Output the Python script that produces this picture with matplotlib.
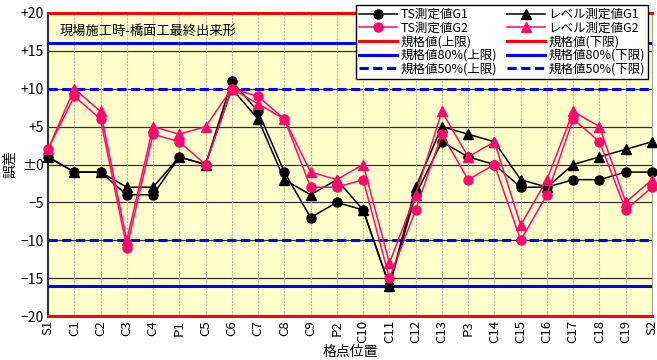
import matplotlib.pyplot as plt
from matplotlib.lines import Line2D

plt.rcParams['font.family'] = ['Noto Sans CJK JP', 'DejaVu Sans']

# 格点 and measured deviations (mm)
points = ['S1', 'C1', 'C2', 'C3', 'C4', 'P1', 'C5', 'C6', 'C7', 'C8', 'C9', 'P2',
          'C10', 'C11', 'C12', 'C13', 'P3', 'C14', 'C15', 'C16', 'C17', 'C18', 'C19', 'S2']
ts_g1 = [1, -1, -1, -4, -4, 1, 0, 11, 7, -1, -7, -5, -6, -16, -4, 3, 1, 0, -3, -3, -2, -2, -1, -1]
ts_g2 = [2, 9, 6, -11, 4, 3, 0, 10, 9, 6, -3, -3, -2, -15, -6, 4, -2, 0, -10, -4, 6, 3, -6, -3]
lv_g1 = [1, -1, -1, -3, -3, 1, 0, 10, 6, -2, -4, -2, -6, -16, -3, 5, 4, 3, -2, -3, 0, 1, 2, 3]
lv_g2 = [2, 10, 7, -10, 5, 4, 5, 10, 8, 6, -1, -2, 0, -13, -4, 7, 1, 3, -8, -2, 7, 5, -5, -2]

limit = 20
limit80 = 16
limit50 = 10

yticks = [20, 15, 10, 5, 0, -5, -10, -15, -20]
ytick_labels = ['+20', '+15', '+10', '+5', '±0', '−5', '−10', '−15', '−20']

pink = '#FF0A6C'

fig = plt.figure(figsize=(6.57, 3.6), dpi=100)
ax = fig.add_axes([48 / 657, 44 / 360, 604 / 657, 303 / 360])
ax.set_facecolor('#FFFFCC')

x = list(range(len(points)))

# grid
for v in yticks:
    ax.axhline(v, color='#303030', lw=0.9, zorder=1)
for xi in x:
    ax.axvline(xi, color='#B8B8A8', lw=0.8, ls=(0, (2, 1)), zorder=1)

# tolerance lines
ax.axhline(limit, color='#FF0000', lw=2.2, zorder=3, clip_on=False)
ax.axhline(-limit, color='#FF0000', lw=2.2, zorder=3, clip_on=False)
ax.axhline(limit80, color='#0000FF', lw=2.2, zorder=3)
ax.axhline(-limit80, color='#0000FF', lw=2.2, zorder=3)
ax.axhline(limit50, color='#0000FF', lw=2.2, ls=(0, (3, 1.5)), zorder=3)
ax.axhline(-limit50, color='#0000FF', lw=2.2, ls=(0, (3, 1.5)), zorder=3)

# measurements
ax.plot(x, ts_g1, color='black', marker='o', ms=6.5, lw=1.1, zorder=5, clip_on=False)
ax.plot(x, lv_g1, color='black', marker='^', ms=6.5, lw=1.1, zorder=5, clip_on=False)
ax.plot(x, ts_g2, color=pink, marker='o', ms=6.5, lw=1.1, zorder=6, clip_on=False)
ax.plot(x, lv_g2, color=pink, marker='^', ms=6.5, lw=1.1, zorder=6, clip_on=False)

ax.set_xlim(0, len(points) - 1)
ax.set_ylim(-20, 20)
ax.set_yticks(yticks)
ax.set_yticklabels(ytick_labels, fontsize=10)
ax.set_xticks(x)
ax.set_xticklabels(points, rotation=90, fontsize=9.5)
ax.tick_params(axis='both', length=0, pad=3)

ax.spines['left'].set_color('#303030')
ax.spines['left'].set_linewidth(1.5)
ax.spines['right'].set_color('#A0A0A0')
ax.spines['top'].set_visible(False)
ax.spines['bottom'].set_visible(False)

ax.set_ylabel('誤差', fontsize=10, labelpad=2)
ax.set_xlabel('格点位置', fontsize=10, labelpad=1)

ax.text(0.02, 0.96, '現場施工時-橋面工最終出来形', transform=ax.transAxes,
        fontsize=9.5, va='top', ha='left')

handles = [
    Line2D([], [], color='black', marker='o', ms=6.5, lw=1.1),
    Line2D([], [], color=pink, marker='o', ms=6.5, lw=1.1),
    Line2D([], [], color='#FF0000', lw=2.2),
    Line2D([], [], color='#0000FF', lw=2.2),
    Line2D([], [], color='#0000FF', lw=2.2, ls=(0, (3, 1.5))),
    Line2D([], [], color='black', marker='^', ms=6.5, lw=1.1),
    Line2D([], [], color=pink, marker='^', ms=6.5, lw=1.1),
    Line2D([], [], color='#FF0000', lw=2.2),
    Line2D([], [], color='#0000FF', lw=2.2),
    Line2D([], [], color='#0000FF', lw=2.2, ls=(0, (3, 1.5))),
]
labels = ['TS測定値G1', 'TS測定値G2', '規格値(上限)', '規格値80%(上限)', '規格値50%(上限)',
          'レベル測定値G1', 'レベル測定値G2', '規格値(下限)', '規格値80%(下限)', '規格値50%(下限)']
leg = ax.legend(handles, labels, ncol=2, loc='upper right',
                bbox_to_anchor=(648 / 657, 355 / 360), bbox_transform=fig.transFigure,
                fontsize=9, frameon=True, fancybox=False, framealpha=1,
                edgecolor='black', handlelength=3.0, labelspacing=0.05,
                columnspacing=0.8, handletextpad=0.3, borderpad=0.25, borderaxespad=0)
leg.get_frame().set_linewidth(1.0)
leg.set_zorder(10)

fig.savefig('out.png', dpi=100)
